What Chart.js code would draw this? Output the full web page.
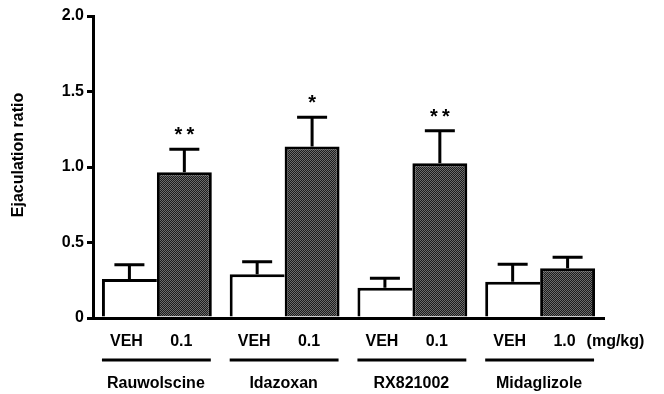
<!DOCTYPE html>
<html>
<head>
<meta charset="utf-8">
<script src="https://cdn.jsdelivr.net/npm/chart.js@4/dist/chart.umd.min.js"></script>
<style>
  html, body { margin: 0; padding: 0; background: #fff; }
  canvas { display: block; }
</style>
</head>
<body>
<canvas id="chart" width="664" height="394"></canvas>
<script>
// values
const drugs = ["Rauwolscine", "Idazoxan", "RX821002", "Midaglizole"];
const vehLabel = "VEH";
const doses = ["0.1", "0.1", "0.1", "1.0"];
const doseUnit = "(mg/kg)";
const vehMean = [0.258, 0.29, 0.2, 0.24];
const vehSem = [0.094, 0.083, 0.064, 0.116];
const drugMean = [0.965, 1.135, 1.025, 0.33];
const drugSem = [0.153, 0.195, 0.215, 0.073];
const drugSig = ["**", "*", "**", ""];
const yTicks = [0, 0.5, 1.0, 1.5, 2.0];
const yTickLabels = ["0", "0.5", "1.0", "1.5", "2.0"];
const yTitle = "Ejaculation ratio";

const FONT = '"Liberation Sans", Arial, Helvetica, sans-serif';

// stippled dark fill like the printed bars
function makeStipple() {
  const c = document.createElement("canvas");
  c.width = 2;
  c.height = 2;
  const g = c.getContext("2d");
  g.fillStyle = "#1c1c1c";
  g.fillRect(0, 0, 2, 2);
  g.fillStyle = "#6c6c6c";
  g.fillRect(0, 0, 1, 1);
  g.fillRect(1, 1, 1, 1);
  return g.createPattern(c, "repeat");
}

// error bars, asterisks, labels under the axis
const annotations = {
  id: "annotations",
  afterDatasetsDraw(chart) {
    const ctx = chart.ctx;
    const y = chart.scales.y;
    const area = chart.chartArea;
    const vehMeta = chart.getDatasetMeta(0);
    const drugMeta = chart.getDatasetMeta(1);
    const sems = [vehSem, drugSem];
    const means = [vehMean, drugMean];

    ctx.save();
    ctx.strokeStyle = "#000";
    ctx.fillStyle = "#000";
    ctx.lineWidth = 3;
    ctx.lineCap = "butt";

    [vehMeta, drugMeta].forEach((meta, d) => {
      meta.data.forEach((bar, i) => {
        const top = y.getPixelForValue(means[d][i] + sems[d][i]);
        ctx.beginPath();
        ctx.moveTo(bar.x, bar.y);
        ctx.lineTo(bar.x, top);
        ctx.moveTo(bar.x - 15, top);
        ctx.lineTo(bar.x + 15, top);
        ctx.stroke();

        if (d === 1 && drugSig[i]) {
          ctx.font = "bold 20px " + FONT;
          ctx.textAlign = "center";
          ctx.textBaseline = "alphabetic";
          const n = drugSig[i].length;
          for (let k = 0; k < n; k++) {
            const dx = (k - (n - 1) / 2) * 12;
            ctx.fillText("*", bar.x + dx, top - 8);
          }
        }
      });
    });

    // dose labels, group underline, drug names
    ctx.font = "bold 16px " + FONT;
    ctx.textBaseline = "middle";
    ctx.textAlign = "center";
    drugs.forEach((name, i) => {
      const v = vehMeta.data[i];
      const dr = drugMeta.data[i];
      ctx.fillText(vehLabel, v.x - 3, area.bottom + 24);
      ctx.fillText(doses[i], dr.x - 3, area.bottom + 24);

      ctx.beginPath();
      ctx.moveTo(v.x - v.width / 2, area.bottom + 42);
      ctx.lineTo(dr.x + dr.width / 2 - 1, area.bottom + 42);
      ctx.stroke();

      ctx.fillText(name, (v.x + dr.x) / 2 - 1, area.bottom + 66);
    });
    const last = drugMeta.data[drugMeta.data.length - 1];
    ctx.textAlign = "left";
    ctx.fillText(doseUnit, last.x + 19, area.bottom + 24);

    // y axis title
    ctx.translate(19, 155);
    ctx.rotate(-Math.PI / 2);
    ctx.textAlign = "center";
    ctx.fillText(yTitle, 0, 0);
    ctx.restore();
  },
};

const ctx = document.getElementById("chart").getContext("2d");
new Chart(ctx, {
  type: "bar",
  data: {
    labels: drugs,
    datasets: [
      {
        label: vehLabel,
        data: vehMean,
        backgroundColor: "#ffffff",
        borderColor: "#000000",
        borderWidth: { top: 3, left: 3, right: 0, bottom: 0 },
        barPercentage: 1,
        categoryPercentage: 0.86,
      },
      {
        label: "Drug",
        data: drugMean,
        backgroundColor: makeStipple(),
        borderColor: "#000000",
        borderWidth: { top: 3, left: 3, right: 3, bottom: 0 },
        barPercentage: 1,
        categoryPercentage: 0.86,
      },
    ],
  },
  options: {
    responsive: false,
    animation: false,
    devicePixelRatio: 1,
    layout: { padding: { top: 16, right: 60, bottom: 0, left: 0 } },
    plugins: {
      legend: { display: false },
      tooltip: { enabled: false },
    },
    scales: {
      x: {
        grid: { display: false },
        ticks: { display: false },
        border: { display: true, color: "#000", width: 3 },
        afterFit(scale) {
          scale.height = 76;
        },
      },
      y: {
        min: 0,
        max: 2,
        afterBuildTicks(scale) {
          scale.ticks = yTicks.map((v) => ({ value: v }));
        },
        ticks: {
          color: "#000",
          padding: 3,
          font: { family: FONT, size: 16, weight: "bold" },
          callback: (v) => yTickLabels[yTicks.indexOf(v)],
        },
        grid: {
          drawOnChartArea: false,
          drawTicks: true,
          tickLength: 6,
          lineWidth: 3,
          color: "#000",
        },
        border: { display: true, color: "#000", width: 3 },
        afterFit(scale) {
          scale.width = 93;
        },
      },
    },
  },
  plugins: [annotations],
});
</script>
</body>
</html>
